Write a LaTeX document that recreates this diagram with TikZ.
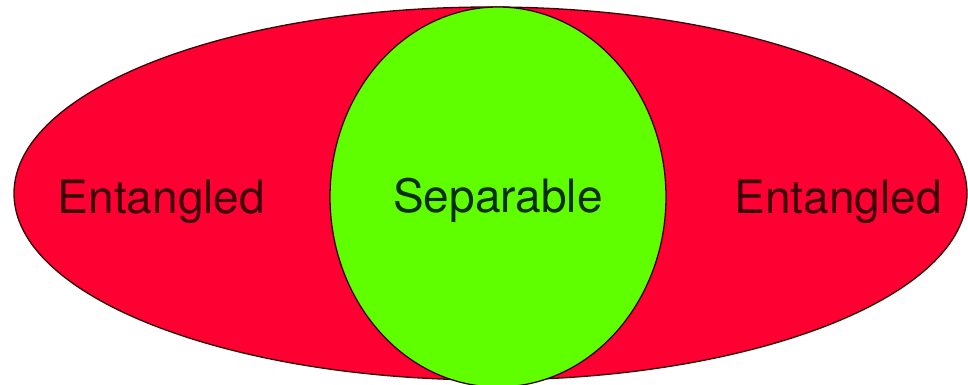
\documentclass[tikz,border=0pt]{standalone}
\usepackage{fontspec}
\setmainfont{TeX Gyre Heros}
\definecolor{entred}{RGB}{255,0,50}
\definecolor{sepgreen}{RGB}{95,255,0}
\definecolor{redtext}{RGB}{60,0,10}
\definecolor{greentext}{RGB}{10,45,0}
\definecolor{edge}{RGB}{50,5,5}
\begin{document}
\begin{tikzpicture}[x=1pt,y=1pt,
  region/.style={draw=edge,line width=1.3pt},
  lbl/.style={anchor=base,font=\fontsize{46}{50}\selectfont,inner sep=0pt}]
\useasboundingbox (0,0) rectangle (968,385);
\fill[white] (0,0) rectangle (968,385);
\begin{scope}
\clip (0,0) rectangle (968,385);
\draw[region,fill=entred] (490.5,191.5) ellipse [x radius=476.5, y radius=186.5];
\draw[region,fill=sepgreen] (498,188) ellipse [x radius=168, y radius=190];
\end{scope}
\node[lbl,text=redtext] (left) at (161.5,171) {Entangled};
\node[lbl,text=greentext] (mid) at (498,172) {Separable};
\node[lbl,text=redtext] (right) at (838,171) {Entangled};
\end{tikzpicture}
\end{document}
